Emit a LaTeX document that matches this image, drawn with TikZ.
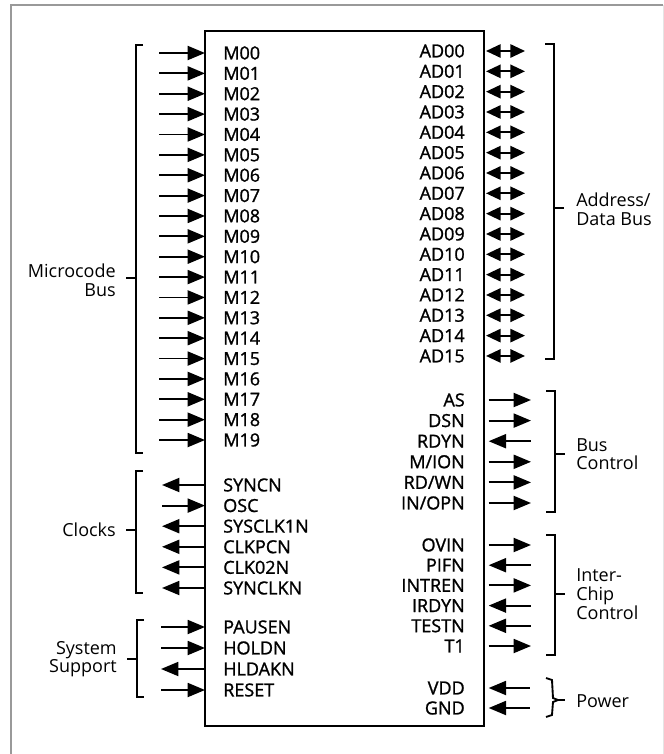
\documentclass[tikz,border=0pt]{standalone}
\usepackage{fontspec}
\setmainfont{Open Sans}
\newfontfamily\pinfont{Open Sans}[FakeBold=1.2]
\usetikzlibrary{arrows.meta}

\tikzset{
    pin/.style = {inner sep=0pt, text height=9.6pt, text depth=0pt, font=\pinfont\fontsize{13.5}{15}\selectfont},
    grp/.style = {inner sep=0pt, font=\fontsize{13.5}{14}\selectfont},
    headend/.style = {-{Triangle[length=13pt, width=10.5pt]}, line width=1.4pt},
    headstart/.style = {{Triangle[length=13pt, width=10.5pt]}-, line width=1.4pt},
    bidir/.style = {{Triangle[length=11pt, width=10pt]}-{Triangle[length=11pt, width=10pt]}, line width=1.4pt},
    brack/.style = {line width=1.4pt},
}

\begin{document}
\begin{tikzpicture}[x=0.75pt, y=-0.75pt]
    \useasboundingbox (0,0) rectangle (664,754);
    % frame
    \draw [gray!80, line width=0.8pt] (11,754) -- (11,5) -- (663,5);
    \draw [gray!20, line width=0.6pt] (663,5) -- (663,754);
    % chip
    \coordinate (chipNW) at (205,31);
    \coordinate (chipSE) at (484,726);
    \draw [line width=1.7pt] (chipNW) rectangle (chipSE);

    % microcode bus
    \foreach \name [count=\i from 0] in {M00,M01,M02,M03,M04,M05,M06,M07,M08,M09,M10,M11,M12,M13,M14,M15,M16,M17,M18,M19} {
        \node (m\i) at (223, 53+20.37*\i) [pin, anchor=west] {\name};
        \coordinate (m\i-io) at (159, 53+20.37*\i);
        \draw [headend] (m\i-io) -- (chipNW |- m\i);
    }
    \draw [brack] (143,45) -- (136,45) -- (136,453) -- (143,453);
    \draw [brack] (136,278) -- (126,278);
    \node (mbus) at (116,280) [grp, anchor=east, align=right] {Microcode\\Bus};

    % clocks
    \foreach \name/\sty [count=\i from 0] in {SYNCN/headstart,OSC/headend,SYSCLK1N/headstart,CLKPCN/headstart,CLK02N/headstart,SYNCLKN/headstart} {
        \node (c\i) at (223, 485+20.6*\i) [pin, anchor=west] {\name};
        \coordinate (c\i-io) at (162, 485+20.6*\i);
        \draw [\sty] (c\i-io) -- (chipNW |- c\i);
    }
    \draw [brack] (143,471) -- (136,471) -- (136,593) -- (143,593);
    \draw [brack] (136,530) -- (126,530);
    \node (clk) at (116,530) [grp, anchor=east] {Clocks};

    % system support
    \foreach \name/\sty [count=\i from 0] in {PAUSEN/headend,HOLDN/headend,HLDAKN/headstart,RESET/headend} {
        \node (s\i) at (223, 627+21*\i) [pin, anchor=west] {\name};
        \coordinate (s\i-io) at (161, 627+21*\i);
        \draw [\sty] (s\i-io) -- (chipNW |- s\i);
    }
    \draw [brack] (144,620) -- (137,620) -- (137,697) -- (144,697);
    \draw [brack] (137,659) -- (127,659);
    \node (sys) at (117,659) [grp, anchor=east, align=right] {System\\Support};

    % address/data bus
    \foreach \name [count=\i from 0] in {AD00,AD01,AD02,AD03,AD04,AD05,AD06,AD07,AD08,AD09,AD10,AD11,AD12,AD13,AD14,AD15} {
        \node (a\i) at (465, 51+20.33*\i) [pin, anchor=east] {\name};
        \coordinate (a\i-io) at (525, 51+20.33*\i);
        \draw [bidir, shorten <=1.5pt] (chipSE |- a\i) -- (a\i-io);
    }
    \draw [brack] (545,44) -- (554,44) -- (554,359) -- (545,359);
    \draw [brack] (554,208) -- (564,208);
    \node (adbus) at (576,209) [grp, anchor=west, align=left] {Address/\\Data Bus};

    % bus control
    \foreach \name/\sty [count=\i from 0] in {AS/headend,DSN/headend,RDYN/headstart,{M/ION}/headend,{RD/WN}/headend,{IN/OPN}/headend} {
        \node (b\i) at (465, 400+20.6*\i) [pin, anchor=east] {\name};
        \coordinate (b\i-io) at (531, 400+20.6*\i);
        \draw [\sty, shorten <=3.5pt] (chipSE |- b\i) -- (b\i-io);
    }
    \draw [brack] (546,391) -- (555,391) -- (555,512) -- (546,512);
    \draw [brack] (555,454) -- (565,454);
    \node (busctl) at (576,454) [grp, anchor=west, align=left] {Bus\\Control};

    % inter-chip control
    \foreach \name/\sty [count=\i from 0] in {OVIN/headend,PIFN/headstart,INTREN/headend,IRDYN/headstart,TESTN/headstart,T1/headend} {
        \node (i\i) at (465, 545+20.2*\i) [pin, anchor=east] {\name};
        \coordinate (i\i-io) at (531, 545+20.2*\i);
        \draw [\sty, shorten <=3.5pt] (chipSE |- i\i) -- (i\i-io);
    }
    \draw [brack] (546,535) -- (555,535) -- (555,655) -- (546,655);
    \draw [brack] (555,594) -- (565,594);
    \node (icc) at (576,594) [grp, anchor=west, align=left] {Inter-\\Chip\\Control};

    % power
    \foreach \name [count=\i from 0] in {VDD,GND} {
        \node (p\i) at (465, 688+20*\i) [pin, anchor=east] {\name};
        \coordinate (p\i-io) at (530, 688+20*\i);
        \draw [headstart, shorten <=3.5pt] (chipSE |- p\i) -- (p\i-io);
    }
    \draw [brack] (546,678) -- (552,680) -- (553,698) -- (558,700) -- (553,702) -- (552,715) -- (546,717);
    \draw [brack] (558,700) -- (565,700);
    \node (pwr) at (576,701) [grp, anchor=west] {Power};
\end{tikzpicture}
\end{document}
